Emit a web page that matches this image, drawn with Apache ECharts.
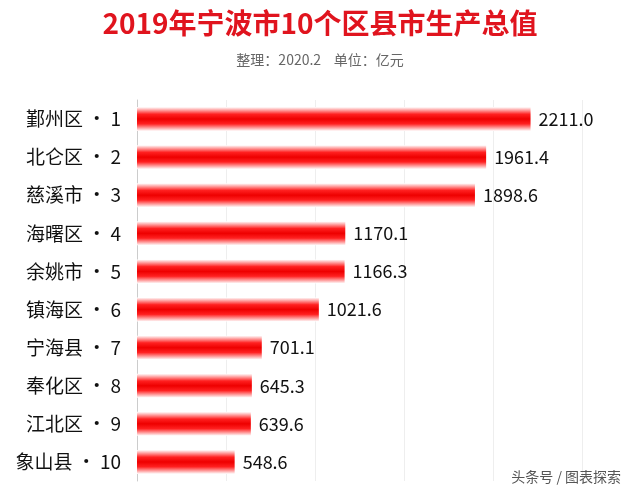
<!DOCTYPE html>
<html><head><meta charset="utf-8">
<script src="https://cdn.jsdelivr.net/npm/echarts@6/dist/echarts.min.js"></script>
<style>html,body{margin:0;padding:0;background:#fff}#c{width:640px;height:499px}</style>
</head><body><div id="c"></div>
<script>
const categories = ["鄞州区·1","北仑区·2","慈溪市·3","海曙区·4","余姚市·5","镇海区·6","宁海县·7","奉化区·8","江北区·9","象山县·10"];
const values = [2211.0,1961.4,1898.6,1170.1,1166.3,1021.6,701.1,645.3,639.6,548.6];
const chart = echarts.init(document.getElementById('c'));
const F = '"Noto Sans CJK SC", sans-serif';
chart.setOption({
  animation:false,
  title:[
    {text:'2019年宁波市10个区县市生产总值',left:'center',top:4,textStyle:{color:'#e0141e',fontSize:28,fontWeight:'bold',fontFamily:F}},
    {text:'整理：2020.2    单位：亿元',left:'center',top:48,textStyle:{color:'#666',fontSize:14,fontWeight:'normal',fontFamily:F}},
    {text:'头条号 / 图表探索',right:14,bottom:10,textStyle:{color:'#555',fontSize:14,fontWeight:'normal',fontFamily:F}}
  ],
  grid:{left:137,right:58,top:100,bottom:18},
  xAxis:{type:'value',min:0,max:2500,interval:500,axisLabel:{show:false},axisLine:{show:false},axisTick:{show:false},splitLine:{lineStyle:{color:'#eee'}}},
  yAxis:{type:'category',data:categories,inverse:true,axisLine:{lineStyle:{color:'#ccc'}},axisTick:{show:false},
    axisLabel:{color:'#111',fontSize:19,fontFamily:F,margin:16,formatter:v=>v.replace('·',' · ')}},
  series:[{type:'bar',data:values,barWidth:24,
    itemStyle:{color:new echarts.graphic.LinearGradient(0,0,0,1,[
      {offset:0,color:'rgba(255,255,255,1)'},{offset:0.3,color:'#ff2020'},{offset:0.5,color:'#ee0000'},{offset:0.7,color:'#ff2020'},{offset:1,color:'rgba(255,255,255,1)'}])},
    label:{show:true,position:'right',distance:8,color:'#111',fontSize:18,fontFamily:F,formatter:p=>p.value.toFixed(1)}}]
});
</script></body></html>
